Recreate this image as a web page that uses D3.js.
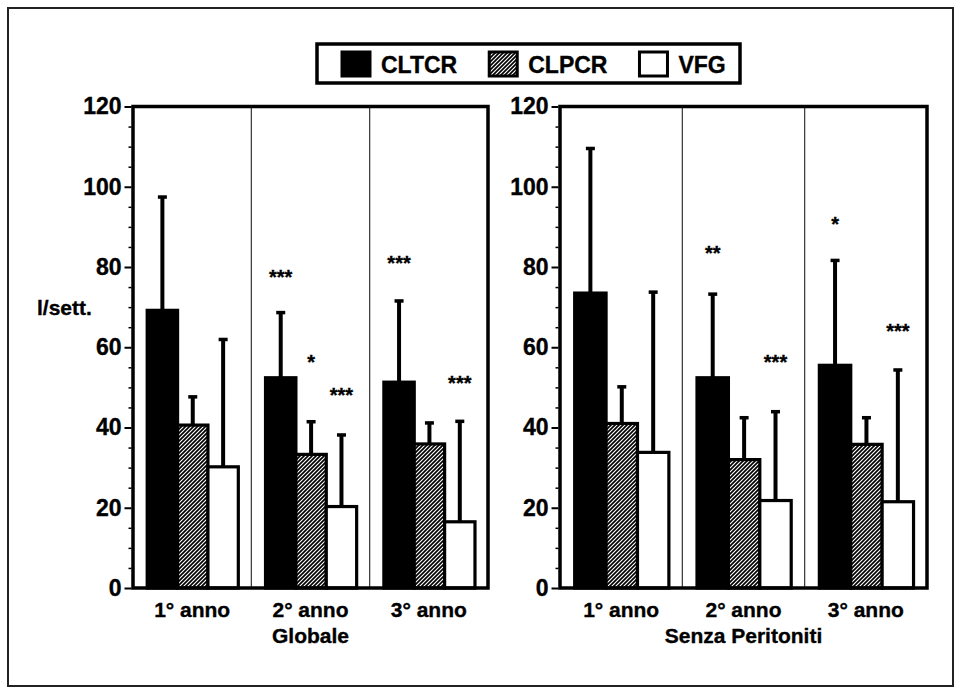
<!DOCTYPE html>
<html><head><meta charset="utf-8">
<script src="https://cdn.jsdelivr.net/npm/d3@7"></script>
<style>
html,body{margin:0;padding:0;background:#fff;}
svg{display:block;font-family:"Liberation Sans",Arial,Helvetica,sans-serif;font-weight:bold;}
svg text{stroke:#000;stroke-width:0.35px;fill:#000;}
</style></head><body><svg id="c" width="959" height="688"></svg>
<script>
// ---------- data ----------
const categories = ["1° anno", "2° anno", "3° anno"];
const seriesNames = ["CLTCR", "CLPCR", "VFG"];
const yTicks = [0, 20, 40, 60, 80, 100, 120];
const yMinorStep = 5;
const yLabel = "l/sett.";
const panelTitles = ["Globale", "Senza Peritoniti"];

// Globale: means and SD (upper error bar)
const globCLTCR = [69.2, 52.4, 51.3];
const globCLTCRsd = [28.3, 16.3, 20.3];
const globCLPCR = [40.6, 33.3, 35.9];
const globCLPCRsd = [7.1, 8.2, 5.3];
const globVFG = [30.2, 20.3, 16.5];
const globVFGsd = [31.8, 17.9, 25.1];

// Senza Peritoniti
const senzaCLTCR = [73.5, 52.4, 55.5];
const senzaCLTCRsd = [36.1, 20.9, 26.2];
const senzaCLPCR = [41.0, 32.0, 35.8];
const senzaCLPCRsd = [9.2, 10.5, 6.7];
const senzaVFG = [33.8, 21.8, 21.5];
const senzaVFGsd = [40.0, 22.2, 32.9];

// significance marks: [category index, series index, label, value level]
const globMarks = [[1, 0, "***", 78.6], [1, 1, "*", 57.4], [1, 2, "***", 49.1], [2, 0, "***", 82.0], [2, 2, "***", 52.1]];
const senzaMarks = [[1, 0, "**", 84.5], [1, 2, "***", 57.4], [2, 0, "*", 91.8], [2, 2, "***", 65.1]];

// ---------- drawing ----------
const svg = d3.select("#c");
const defs = svg.append("defs");
const pat = defs.append("pattern").attr("id", "hatch").attr("patternUnits", "userSpaceOnUse")
  .attr("width", 4).attr("height", 4);
pat.append("rect").attr("width", 4).attr("height", 4).attr("fill", "#fff");
pat.append("path").attr("d", "M-1,1 l2,-2 M0,4 l4,-4 M3,5 l2,-2")
  .attr("stroke", "#000").attr("stroke-width", 1.7);

const fills = d3.scaleOrdinal().domain(seriesNames).range(["#000", "url(#hatch)", "#fff"]);

// outer frame
svg.append("rect").attr("x", 8).attr("y", 8).attr("width", 945).attr("height", 678)
  .attr("fill", "none").attr("stroke", "#222").attr("stroke-width", 2);

const y = d3.scaleLinear().domain([0, 120]).range([588, 106.5]);

const panels = [
  { title: panelTitles[0], means: [globCLTCR, globCLPCR, globVFG], sds: [globCLTCRsd, globCLPCRsd, globVFGsd], marks: globMarks, x0: 133, x1: 488 },
  { title: panelTitles[1], means: [senzaCLTCR, senzaCLPCR, senzaVFG], sds: [senzaCLTCRsd, senzaCLPCRsd, senzaVFGsd], marks: senzaMarks, x0: 560, x1: 927 }
];

panels.forEach(p => {
  const g = svg.append("g");
  const xg = d3.scaleBand().domain(categories).range([p.x0, p.x1]).padding(0);
  const gw = xg.bandwidth();
  const xs = d3.scaleBand().domain(seriesNames).range([0.12 * gw, 0.89 * gw]).padding(0);
  const bw = xs.bandwidth();

  // dividers
  g.selectAll("line.div").data(categories.slice(1)).join("line")
    .attr("x1", d => xg(d)).attr("x2", d => xg(d))
    .attr("y1", y(120)).attr("y2", y(0))
    .attr("stroke", "#333").attr("stroke-width", 1.2);

  const rows = [];
  seriesNames.forEach((s, si) => categories.forEach((c, ci) => {
    rows.push({ s, c, v: p.means[si][ci], sd: p.sds[si][ci] });
  }));

  // error bars (vertical)
  g.selectAll("line.err").data(rows).join("line")
    .attr("x1", d => xg(d.c) + xs(d.s) + bw / 2).attr("x2", d => xg(d.c) + xs(d.s) + bw / 2)
    .attr("y1", d => y(d.v)).attr("y2", d => y(d.v + d.sd))
    .attr("stroke", "#000").attr("stroke-width", 4);
  // caps
  g.selectAll("rect.cap").data(rows).join("rect")
    .attr("x", d => xg(d.c) + xs(d.s) + bw / 2 - 4.5).attr("width", 9)
    .attr("y", d => y(d.v + d.sd) - 1.5).attr("height", 3.5)
    .attr("fill", "#000");

  // bars
  g.selectAll("rect.bar").data(rows).join("rect")
    .attr("x", d => xg(d.c) + xs(d.s)).attr("width", bw)
    .attr("y", d => y(d.v)).attr("height", d => y(0) - y(d.v))
    .attr("fill", d => fills(d.s)).attr("stroke", "#000").attr("stroke-width", 3.2);

  // significance marks
  g.selectAll("text.mark").data(p.marks).join("text")
    .attr("x", d => xg(categories[d[0]]) + xs(seriesNames[d[1]]) + bw / 2)
    .attr("y", d => y(d[3]) + 11)
    .attr("text-anchor", "middle").attr("font-size", 20).text(d => d[2]);

  // frame
  g.append("rect").attr("x", p.x0).attr("y", y(120)).attr("width", p.x1 - p.x0).attr("height", y(0) - y(120))
    .attr("fill", "none").attr("stroke", "#000").attr("stroke-width", 3.5);

  // y axis
  const ax = g.append("g").attr("transform", `translate(${p.x0 - 1.5},0)`)
    .call(d3.axisLeft(y).tickValues(yTicks).tickSize(7).tickPadding(3).tickFormat(d3.format("d")));
  ax.attr("font-family", null).attr("font-size", null);
  ax.select(".domain").remove();
  ax.selectAll("line").attr("stroke-width", 2);
  ax.selectAll("text").attr("font-size", 23);
  const minor = d3.range(0, 121, yMinorStep).filter(v => !yTicks.includes(v));
  const axm = g.append("g").attr("transform", `translate(${p.x0 - 1.5},0)`)
    .call(d3.axisLeft(y).tickValues(minor).tickSize(3).tickFormat(""));
  axm.select(".domain").remove();
  axm.selectAll("line").attr("stroke-width", 1.5);

  // category labels
  g.selectAll("text.cat").data(categories).join("text")
    .attr("x", d => xg(d) + gw / 2).attr("y", 617)
    .attr("text-anchor", "middle").attr("font-size", 21).text(d => d);

  // panel title
  g.append("text").attr("x", (p.x0 + p.x1) / 2).attr("y", 643)
    .attr("text-anchor", "middle").attr("font-size", 21).text(p.title);
});

// y label
svg.append("text").attr("x", 37).attr("y", 315).attr("font-size", 21).text(yLabel);

// legend
const lg = svg.append("g");
lg.append("rect").attr("x", 317).attr("y", 44).attr("width", 423).attr("height", 39)
  .attr("fill", "#fff").attr("stroke", "#000").attr("stroke-width", 3.5);
let lx = 342;
seriesNames.forEach(s => {
  lg.append("rect").attr("x", lx).attr("y", 52).attr("width", 28).attr("height", 24)
    .attr("fill", fills(s)).attr("stroke", "#000").attr("stroke-width", 3);
  const t = lg.append("text").attr("x", lx + 39).attr("y", 73).attr("font-size", 23).text(s);
  lx += 39 + t.node().getComputedTextLength() + 32;
});
</script></body></html>
